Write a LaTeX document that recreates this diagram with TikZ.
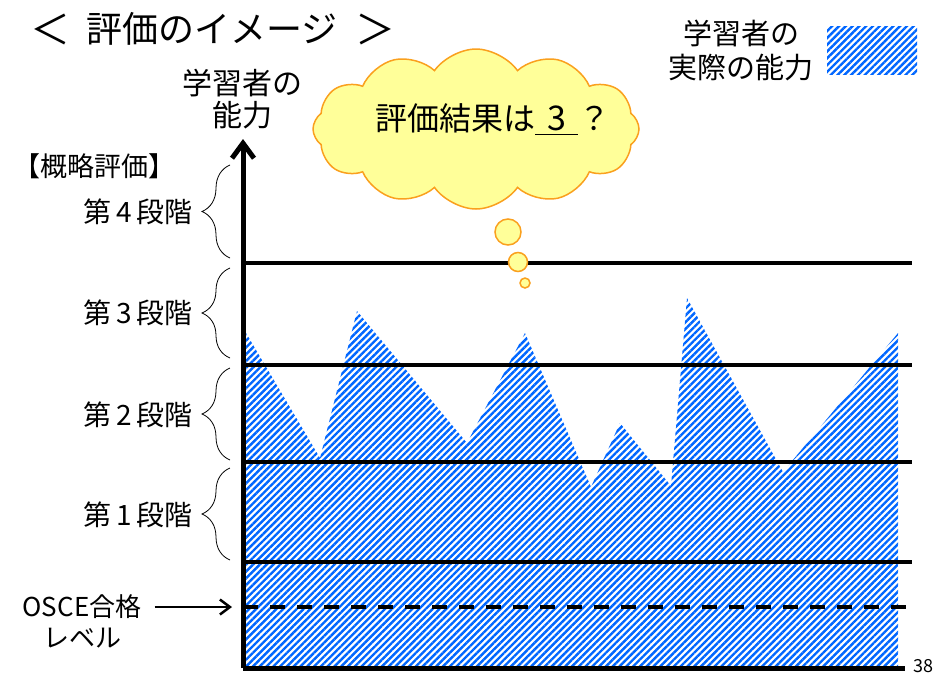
\documentclass[tikz,border=0pt]{standalone}
\usepackage{fontspec}
\setmainfont{Noto Sans CJK JP}
\usetikzlibrary{patterns.meta,arrows.meta,decorations.pathreplacing,shapes.symbols}
\definecolor{hatchblue}{RGB}{0,102,255}
\definecolor{cloudfill}{RGB}{255,255,153}
\definecolor{cloudline}{RGB}{250,160,30}
\begin{document}
\begin{tikzpicture}[x=1pt,y=-1pt,
  hatch/.style={pattern={Lines[angle=45,distance=4.8pt,line width=2.4pt]},pattern color=hatchblue},
  levelline/.style={line width=4pt},
  axisline/.style={line width=5pt},
  stagelbl/.style={inner sep=0pt,anchor=east,font=\fontsize{28}{30}\selectfont},
  bracestyle/.style={decorate,decoration={brace,amplitude=28pt},line width=0.8pt},
  bubble/.style={draw=cloudline,fill=cloudfill,line width=1.5pt},
  txt/.style={inner sep=0pt,font=\fontsize{30}{31.5}\selectfont,align=center}]
\useasboundingbox (0,0) rectangle (948,675);
% hatched ability area
\fill[hatch] (246,333) -- (320,458) -- (357,311) -- (467,443) -- (525,333) -- (591,487)
  -- (620,423) -- (671,486) -- (687,298) -- (783,472) -- (898,333) -- (898,668) -- (246,668) -- cycle;
% legend
\node[txt,font=\fontsize{29}{34}\selectfont] (legend) at (741,50) {学習者の\\実際の能力};
\fill[hatch] (827,26) rectangle (917,74);
% level lines
\draw[levelline] (243,263) -- (912,263);
\draw[levelline] (243,365) -- (912,365);
\draw[levelline] (243,462) -- (912,462);
\draw[levelline] (243,562) -- (912,562);
\draw[levelline,dash pattern=on 15pt off 12pt] (243,607) -- (910,607);
% axes
\coordinate (origin) at (243,668);
\coordinate (ytop) at (243,139);
\coordinate (xend) at (905,668);
\draw[axisline] (origin) -- (xend);
\draw[axisline,-{Straight Barb[length=15pt,width=22pt]}] (origin) -- (ytop);
\node[txt] (ylabel) at (242,99) {学習者の\\能力};
% title
\node[inner sep=0pt,font=\fontsize{40}{40}\selectfont] (tl) at (50,29) {＜};
\node[inner sep=0pt,font=\fontsize{36}{36}\selectfont] (title) at (212,29) {評価のイメージ};
\node[inner sep=0pt,font=\fontsize{40}{40}\selectfont] (tr) at (375,29) {＞};
% stage labels
\node[inner sep=0pt,font=\fontsize{27}{30}\selectfont] (gaiyaku) at (94,166) {【概略評価】};
\node[stagelbl] (s4) at (193,212) {第\hspace{5pt}4\hspace{5pt}段階};
\node[stagelbl] (s3) at (193,313) {第\hspace{5pt}3\hspace{5pt}段階};
\node[stagelbl] (s2) at (193,415) {第\hspace{5pt}2\hspace{5pt}段階};
\node[stagelbl] (s1) at (193,515) {第\hspace{5pt}1\hspace{5pt}段階};
\draw[bracestyle] (230,258) -- (230,165);
\draw[bracestyle] (230,358) -- (230,268);
\draw[bracestyle] (230,460) -- (230,368);
\draw[bracestyle] (230,560) -- (230,468);
% OSCE
\node[inner sep=0pt,font=\fontsize{26}{29}\selectfont] (osce1) at (82,607) {OSCE合格};
\node[inner sep=0pt,font=\fontsize{26}{29}\selectfont] (osce2) at (82,638) {レベル};
\coordinate (osceTip) at (232,607);
\draw[line width=2.5pt,-{Straight Barb[length=10pt,width=15pt]}] ([xshift=13pt]osce1.east) -- (osceTip);
% cloud
\node[bubble,cloud,cloud puffs=12,cloud puff arc=110,cloud ignores aspect,
  minimum width=326pt,minimum height=160pt,inner sep=0pt] (cloud) at (476,129) {};
\node[inner sep=0pt,anchor=base west,font=\fontsize{32}{32}\selectfont] (cloudtext) at (375,130)
  {評価結果は\rlap{\rule[-5pt]{43pt}{1.5pt}}\makebox[43pt]{\fontsize{34}{34}\selectfont 3}？};
\node[bubble,circle,minimum size=26pt,inner sep=0pt] (b1) at (508,232) {};
\node[bubble,circle,minimum size=19pt,inner sep=0pt] (b2) at (518,262) {};
\node[bubble,circle,minimum size=10pt,inner sep=0pt] (b3) at (525,283) {};
% page number
\node[inner sep=0pt,anchor=base west,font=\fontsize{18}{18}\selectfont] (pnum) at (913,672) {38};
\end{tikzpicture}
\end{document}
